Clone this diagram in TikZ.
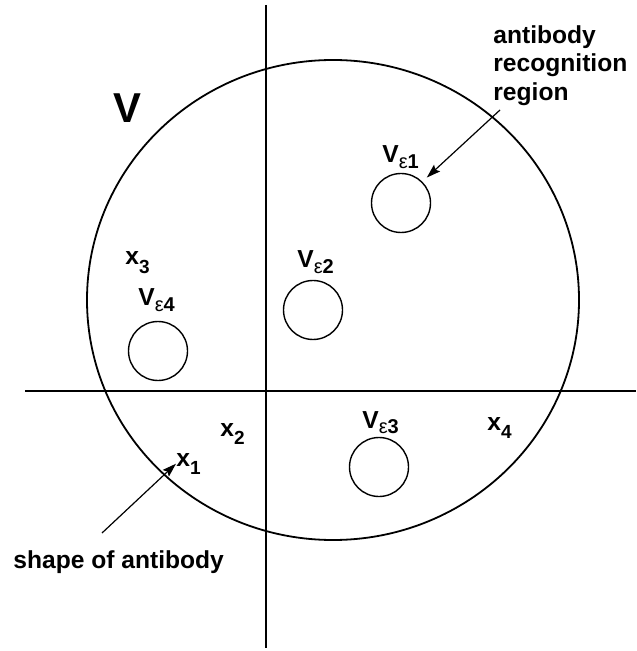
\documentclass[tikz,border=0pt]{standalone}
\usepackage{fontspec}
\setmainfont{Liberation Sans}
\usepackage{tikz}
\usetikzlibrary{arrows.meta,positioning}

\newcommand\xsub[1]{\raisebox{-4.2pt}{\fontsize{9.5}{10}\selectfont #1}}
\newcommand\vsub[1]{\raisebox{-2.6pt}{\fontsize{10}{10}\selectfont{\mdseries ε}#1}}

\begin{document}
\begin{tikzpicture}[
    x=0.5pt, y=-0.5pt,
    lbl/.style={anchor=base west, inner sep=0pt, font=\fontsize{12.3}{14.25}\selectfont\bfseries},
    subregion/.style={draw, circle, line width=0.7pt, minimum size=29.5pt, inner sep=0pt},
    axis/.style={line width=1.2pt},
    pointer/.style={-{Stealth[length=7pt,width=4.5pt,inset=1.2pt]}, line width=0.6pt},
]
    \useasboundingbox (0,0) rectangle (636,651);

    % Axes
    \coordinate (hleft) at (25,391);
    \coordinate (hright) at (636,391);
    \coordinate (vtop) at (266,5);
    \coordinate (vbottom) at (266,648);
    \draw[axis] (hleft) -- (hright);
    \draw[axis] (vtop) -- (vbottom);

    % Space V
    \draw[line width=0.9pt] (333,300) ellipse [x radius=123pt, y radius=120pt];
    \node[anchor=base west, inner sep=0pt, font=\fontsize{20.9}{24}\selectfont\bfseries] (Vlabel) at (113,123) {V};

    % Recognition regions
    \node[subregion] (ve1) at (401,203) {};
    \node[subregion] (ve2) at (313,310) {};
    \node[subregion] (ve3) at (379,467) {};
    \node[subregion] (ve4) at (158,351) {};
    \node[lbl] (ve1lbl) at (382,163) {V\vsub{1}};
    \node[lbl] (ve2lbl) at (297,268) {V\vsub{2}};
    \node[lbl] (ve3lbl) at (362,428) {V\vsub{3}};
    \node[lbl] (ve4lbl) at (138,306) {V\vsub{4}};

    % Antibody shapes
    \node[lbl] (x1) at (176,466) {x\xsub{1}};
    \node[lbl] (x2) at (220,436) {x\xsub{2}};
    \node[lbl] (x3) at (125,265) {x\xsub{3}};
    \node[lbl] (x4) at (487,430) {x\xsub{4}};

    % Annotations
    \node[anchor=north west, inner sep=0pt, align=left, font=\fontsize{12.3}{14.25}\selectfont\bfseries] (recog) at (493,25) {antibody\\recognition\\region};
    \node[lbl] (shape) at (13,568) {shape of antibody};
    \coordinate (recogtail) at (500,110);
    \coordinate (shapetail) at (102,533);
    \draw[pointer, shorten >=3pt] (recogtail) -- (ve1.north east);
    \draw[pointer] (shapetail) -- (x1.west);
\end{tikzpicture}
\end{document}
